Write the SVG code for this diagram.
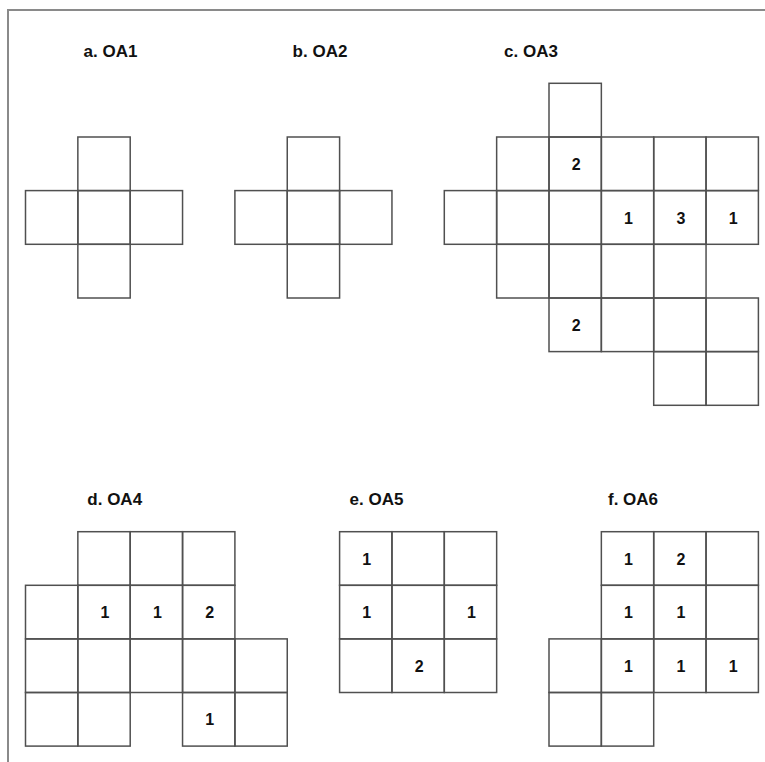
<svg xmlns="http://www.w3.org/2000/svg" width="765" height="762" viewBox="0 0 765 762">
<style>
.c{fill:none;stroke:#505050;stroke-width:1.5}
.n{font-family:"Liberation Sans",Arial,sans-serif;font-weight:bold;font-size:16px;text-anchor:middle;fill:#111}
.t{font-family:"Liberation Sans",Arial,sans-serif;font-weight:bold;font-size:17px;text-anchor:middle;fill:#111}
.b{stroke:#8a8a8a;stroke-width:2;fill:none}
</style>
<rect width="765" height="762" fill="#fff"/>
<path class="b" d="M8 762V10H765"/>
<g id="oa1">
<text class="t" x="110.5" y="57">a. OA1</text>
<rect class="c" x="77.85" y="137" width="52.35" height="53.6"/>
<rect class="c" x="25.5" y="190.6" width="52.35" height="53.7"/>
<rect class="c" x="77.85" y="190.6" width="52.35" height="53.7"/>
<rect class="c" x="130.2" y="190.6" width="52.35" height="53.7"/>
<rect class="c" x="77.85" y="244.3" width="52.35" height="53.7"/>
</g>
<g id="oa2">
<text class="t" x="320" y="57">b. OA2</text>
<rect class="c" x="287.25" y="137" width="52.35" height="53.6"/>
<rect class="c" x="234.9" y="190.6" width="52.35" height="53.7"/>
<rect class="c" x="287.25" y="190.6" width="52.35" height="53.7"/>
<rect class="c" x="339.6" y="190.6" width="52.35" height="53.7"/>
<rect class="c" x="287.25" y="244.3" width="52.35" height="53.7"/>
</g>
<g id="oa3">
<text class="t" x="531" y="57">c. OA3</text>
<rect class="c" x="549" y="83.3" width="52.35" height="53.7"/>
<rect class="c" x="496.65" y="137" width="52.35" height="53.6"/>
<rect class="c" x="549" y="137" width="52.35" height="53.6"/>
<rect class="c" x="601.35" y="137" width="52.35" height="53.6"/>
<rect class="c" x="653.7" y="137" width="52.35" height="53.6"/>
<rect class="c" x="706.05" y="137" width="52.35" height="53.6"/>
<rect class="c" x="444.3" y="190.6" width="52.35" height="53.7"/>
<rect class="c" x="496.65" y="190.6" width="52.35" height="53.7"/>
<rect class="c" x="549" y="190.6" width="52.35" height="53.7"/>
<rect class="c" x="601.35" y="190.6" width="52.35" height="53.7"/>
<rect class="c" x="653.7" y="190.6" width="52.35" height="53.7"/>
<rect class="c" x="706.05" y="190.6" width="52.35" height="53.7"/>
<rect class="c" x="496.65" y="244.3" width="52.35" height="53.7"/>
<rect class="c" x="549" y="244.3" width="52.35" height="53.7"/>
<rect class="c" x="601.35" y="244.3" width="52.35" height="53.7"/>
<rect class="c" x="653.7" y="244.3" width="52.35" height="53.7"/>
<rect class="c" x="549" y="298" width="52.35" height="53.6"/>
<rect class="c" x="601.35" y="298" width="52.35" height="53.6"/>
<rect class="c" x="653.7" y="298" width="52.35" height="53.6"/>
<rect class="c" x="706.05" y="298" width="52.35" height="53.6"/>
<rect class="c" x="653.7" y="351.6" width="52.35" height="53.7"/>
<rect class="c" x="706.05" y="351.6" width="52.35" height="53.7"/>
<text class="n" x="576.2" y="169.8">2</text>
<text class="n" x="628.5" y="223.5">1</text>
<text class="n" x="680.9" y="223.5">3</text>
<text class="n" x="733.2" y="223.5">1</text>
<text class="n" x="576.2" y="330.8">2</text>
</g>
<g id="oa4">
<text class="t" x="114.7" y="505">d. OA4</text>
<rect class="c" x="77.85" y="531.7" width="52.35" height="53.6"/>
<rect class="c" x="130.2" y="531.7" width="52.35" height="53.6"/>
<rect class="c" x="182.55" y="531.7" width="52.35" height="53.6"/>
<rect class="c" x="25.5" y="585.3" width="52.35" height="53.6"/>
<rect class="c" x="77.85" y="585.3" width="52.35" height="53.6"/>
<rect class="c" x="130.2" y="585.3" width="52.35" height="53.6"/>
<rect class="c" x="182.55" y="585.3" width="52.35" height="53.6"/>
<rect class="c" x="25.5" y="638.9" width="52.35" height="53.6"/>
<rect class="c" x="77.85" y="638.9" width="52.35" height="53.6"/>
<rect class="c" x="130.2" y="638.9" width="52.35" height="53.6"/>
<rect class="c" x="182.55" y="638.9" width="52.35" height="53.6"/>
<rect class="c" x="234.9" y="638.9" width="52.35" height="53.6"/>
<rect class="c" x="25.5" y="692.5" width="52.35" height="53.6"/>
<rect class="c" x="77.85" y="692.5" width="52.35" height="53.6"/>
<rect class="c" x="182.55" y="692.5" width="52.35" height="53.6"/>
<rect class="c" x="234.9" y="692.5" width="52.35" height="53.6"/>
<text class="n" x="105" y="618.1">1</text>
<text class="n" x="157.4" y="618.1">1</text>
<text class="n" x="209.7" y="618.1">2</text>
<text class="n" x="209.7" y="725.3">1</text>
</g>
<g id="oa5">
<text class="t" x="376.5" y="505">e. OA5</text>
<rect class="c" x="339.6" y="531.7" width="52.35" height="53.6"/>
<rect class="c" x="391.95" y="531.7" width="52.35" height="53.6"/>
<rect class="c" x="444.3" y="531.7" width="52.35" height="53.6"/>
<rect class="c" x="339.6" y="585.3" width="52.35" height="53.6"/>
<rect class="c" x="391.95" y="585.3" width="52.35" height="53.6"/>
<rect class="c" x="444.3" y="585.3" width="52.35" height="53.6"/>
<rect class="c" x="339.6" y="638.9" width="52.35" height="53.6"/>
<rect class="c" x="391.95" y="638.9" width="52.35" height="53.6"/>
<rect class="c" x="444.3" y="638.9" width="52.35" height="53.6"/>
<text class="n" x="366.8" y="564.5">1</text>
<text class="n" x="366.8" y="618.1">1</text>
<text class="n" x="471.5" y="618.1">1</text>
<text class="n" x="419.1" y="671.7">2</text>
</g>
<g id="oa6">
<text class="t" x="633" y="505">f. OA6</text>
<rect class="c" x="601.35" y="531.7" width="52.35" height="53.6"/>
<rect class="c" x="653.7" y="531.7" width="52.35" height="53.6"/>
<rect class="c" x="706.05" y="531.7" width="52.35" height="53.6"/>
<rect class="c" x="601.35" y="585.3" width="52.35" height="53.6"/>
<rect class="c" x="653.7" y="585.3" width="52.35" height="53.6"/>
<rect class="c" x="706.05" y="585.3" width="52.35" height="53.6"/>
<rect class="c" x="549" y="638.9" width="52.35" height="53.6"/>
<rect class="c" x="601.35" y="638.9" width="52.35" height="53.6"/>
<rect class="c" x="653.7" y="638.9" width="52.35" height="53.6"/>
<rect class="c" x="706.05" y="638.9" width="52.35" height="53.6"/>
<rect class="c" x="549" y="692.5" width="52.35" height="53.6"/>
<rect class="c" x="601.35" y="692.5" width="52.35" height="53.6"/>
<text class="n" x="628.5" y="564.5">1</text>
<text class="n" x="680.9" y="564.5">2</text>
<text class="n" x="628.5" y="618.1">1</text>
<text class="n" x="680.9" y="618.1">1</text>
<text class="n" x="628.5" y="671.7">1</text>
<text class="n" x="680.9" y="671.7">1</text>
<text class="n" x="733.2" y="671.7">1</text>
</g>
<g id="connectors"/>
</svg>
